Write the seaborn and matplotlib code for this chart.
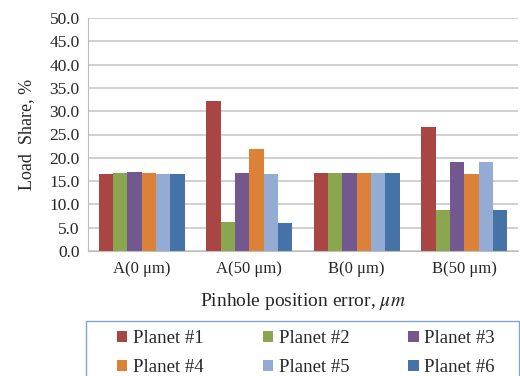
import numpy as np
import pandas as pd
import matplotlib
matplotlib.use("Agg")
import matplotlib.pyplot as plt
from matplotlib.patches import Rectangle
import seaborn as sns

categories = ["A(0 μm)", "A(50 μm)", "B(0 μm)", "B(50 μm)"]
planets = ["Planet #1", "Planet #2", "Planet #3", "Planet #4", "Planet #5", "Planet #6"]
p1 = [16.6, 32.2, 16.7, 26.7]
p2 = [16.8, 6.3, 16.7, 8.9]
p3 = [16.9, 16.7, 16.7, 19.2]
p4 = [16.7, 21.8, 16.7, 16.6]
p5 = [16.5, 16.5, 16.7, 19.0]
p6 = [16.6, 6.1, 16.7, 8.9]
colors = ["#A94543", "#8AA64E", "#73578F", "#DB8238", "#94ABD3", "#4573A8"]

rows = []
for name, vals in zip(planets, [p1, p2, p3, p4, p5, p6]):
    for c, v in zip(categories, vals):
        rows.append({"cat": c, "planet": name, "val": v})
df = pd.DataFrame(rows)

sns.set_style("white")
plt.rcParams["font.family"] = ["Liberation Serif", "DejaVu Serif"]
plt.rcParams["mathtext.fontset"] = "stix"

fig = plt.figure(figsize=(5.2, 3.76), dpi=100)
ax = fig.add_axes([88/520, 1-251/376, 430/520, 233/376])
sns.barplot(data=df, x="cat", y="val", hue="planet", palette=colors,
            order=categories, hue_order=planets, width=0.8, ax=ax,
            edgecolor="none", saturation=1, legend=True)

ax.set_ylim(0, 50)
ax.set_yticks(np.arange(0, 50.1, 5))
ax.set_yticklabels([f"{t:.1f}" for t in np.arange(0, 50.1, 5)], fontsize=12.5)
ax.tick_params(axis="x", labelsize=12, length=0, pad=7)
ax.tick_params(axis="y", length=0, pad=6)
ax.yaxis.grid(True, color="#C8C8C8", linewidth=1.2)
ax.set_axisbelow(True)
for s in ["top", "right"]:
    ax.spines[s].set_visible(False)
ax.spines["left"].set_color("#BDBDBD")
ax.spines["bottom"].set_color("#BDBDBD")
ax.set_xlabel("Pinhole position error, $\\mu m$", fontsize=14, labelpad=10)
ax.set_ylabel("Load  Share, %", fontsize=13, labelpad=10)

handles, labels = ax.get_legend_handles_labels()
ax.get_legend().remove()
order = [0, 3, 1, 4, 2, 5]
handles = [handles[i] for i in order]
labels = [labels[i] for i in order]

fig.patches.append(Rectangle((86/520, 1-380/376), 433/520, 59/376,
                             transform=fig.transFigure, fill=False,
                             edgecolor="#7FA6D0", linewidth=1.0))
leg = fig.legend(handles, labels, ncol=3, loc="upper left",
                 bbox_to_anchor=(117/520, 1-330/376),
                 fontsize=13.5, frameon=False,
                 handlelength=0.55, handleheight=0.55, handletextpad=0.3,
                 borderpad=0, labelspacing=0.65, columnspacing=3.15,
                 borderaxespad=0)

fig.savefig("out.png", dpi=100)
